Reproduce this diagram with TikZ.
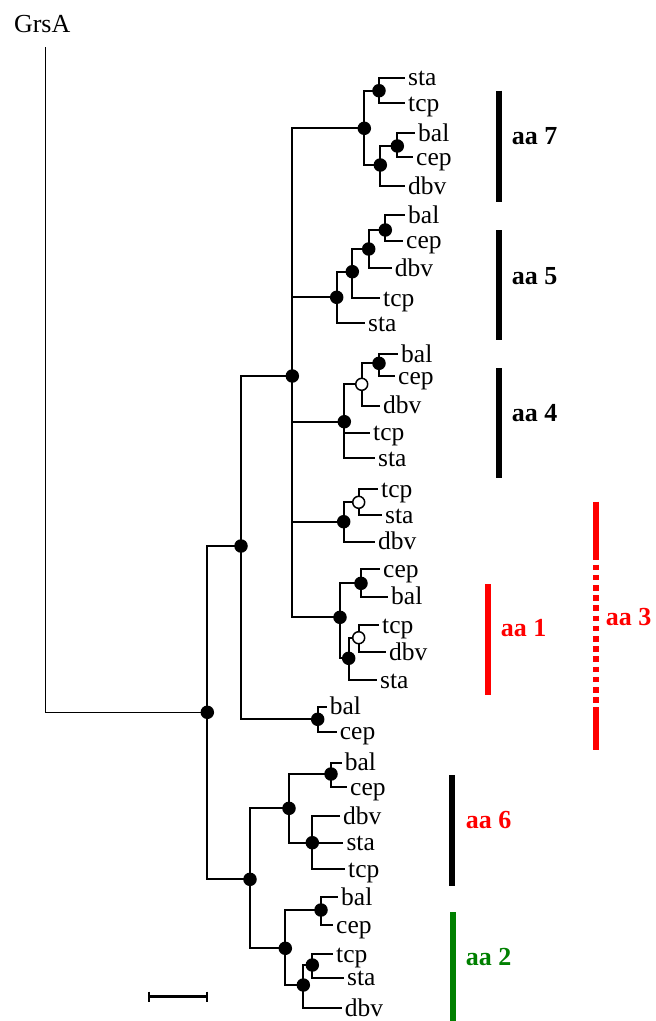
\documentclass[tikz,border=0pt]{standalone}
\usepackage{fontspec}
\setmainfont{Liberation Serif}
\usetikzlibrary{backgrounds}
\definecolor{aared}{RGB}{255,0,0}
\definecolor{aagreen}{RGB}{0,128,0}
\begin{document}
\begin{tikzpicture}[x=1pt,y=-1pt,
 dot/.style={circle,fill=black,inner sep=0pt,minimum size=13.5pt},
 odot/.style={circle,draw=black,fill=white,line width=1.5pt,inner sep=0pt,minimum size=12pt},
 branch/.style={line width=2pt},
 leaflabel/.style={anchor=base west,inner sep=0pt,font=\fontsize{25.5}{30}\selectfont,xshift=3pt,yshift=-8pt},
 grp/.style={line width=6pt},
 grplabel/.style={anchor=base west,inner sep=0pt,font=\fontsize{26}{30}\selectfont\bfseries},
]
\useasboundingbox (0,0) rectangle (656,1021);
% internal nodes
\node[dot] (R) at (207.3,712.3) {};
\node[dot] (A) at (241,546) {};
\node[dot] (B) at (292.3,376) {};
\node[dot] (C7) at (364.3,128.3) {};
\node[dot] (n7a) at (379,90.7) {};
\node[dot] (n7b) at (380.3,165) {};
\node[dot] (n7c) at (397.3,146) {};
\node[dot] (C5) at (336.7,297.3) {};
\node[dot] (n5a) at (352.3,271.7) {};
\node[dot] (n5b) at (368.7,249) {};
\node[dot] (n5c) at (385.3,230) {};
\node[dot] (C4) at (344.3,421.7) {};
\node[odot] (o4) at (361.7,384.3) {};
\node[dot] (n4c) at (379,363.3) {};
\node[dot] (Cx) at (343.7,521.7) {};
\node[odot] (ox) at (358.7,502.3) {};
\node[dot] (C1) at (340,617.3) {};
\node[dot] (n1a) at (361,583.3) {};
\node[dot] (n1b) at (348.7,658.3) {};
\node[odot] (o1) at (358.7,637.7) {};
\node[dot] (BC) at (317.7,719.3) {};
\node[dot] (D) at (250,879.3) {};
\node[dot] (D6) at (289,808.3) {};
\node[dot] (n6a) at (331,774) {};
\node[dot] (n6b) at (312.3,842.7) {};
\node[dot] (D2) at (285.3,948.3) {};
\node[dot] (n2a) at (321,910) {};
\node[dot] (n2b) at (303.3,985) {};
\node[dot] (n2c) at (312.3,965) {};
% leaves: name/parent/x/y/text
\foreach \n/\p/\x/\y/\t in {
 a1/n7a/405/77.7/sta, a2/n7a/405/103.3/tcp, a3/n7c/415/133/bal, a4/n7c/413/157.3/cep, a5/n7b/405/186/dbv,
 b1/n5c/405/215.3/bal, b2/n5c/403/240.7/cep, b3/n5b/391.7/268.3/dbv, b4/n5a/380/298.3/tcp, b5/C5/365/323.3/sta,
 c1/n4c/398/354/bal, c2/n4c/395/376/cep, c3/o4/380/405.7/dbv, c4/C4/370/432.7/tcp, c5/C4/375/458.3/sta,
 d1/ox/378/489.3/tcp, d2/ox/382/515/sta, d3/Cx/375/541.7/dbv,
 e1/n1a/380/569.3/cep, e2/n1a/388/596.7/bal, e3/o1/379/625/tcp, e4/o1/386/652.3/dbv, e5/n1b/377/680/sta,
 f1/BC/326.7/706.7/bal, f2/BC/336.7/731.7/cep,
 g1/n6a/341.7/762.7/bal, g2/n6a/347/787.3/cep, g3/n6b/340/816/dbv, g4/n6b/343.3/842.7/sta, g5/n6b/345/869.3/tcp,
 h1/n2a/338/897.3/bal, h2/n2a/333/925/cep, h3/n2c/333/954/tcp, h4/n2c/344/977.7/sta, h5/n2b/341.7/1008.3/dbv}
{
 \coordinate (\n) at (\x,\y);
 \node[leaflabel] (\n t) at (\n) {\t};
 \begin{pgfonlayer}{background}
 \draw[branch] (\p.center) |- (\n.center);
 \end{pgfonlayer}
}
% root
\coordinate (g) at (45.7,47);
\node[anchor=base,inner sep=0pt,font=\fontsize{26}{30}\selectfont] (grsa) at (42.2,32.7) {GrsA};
\begin{pgfonlayer}{background}
\draw[line width=1.5pt] (R.center) -| (g);
\foreach \p/\c in {R/A, R/D, A/B, A/BC, B/C7, B/C5, B/C4, B/Cx, B/C1, C7/n7a, C7/n7b, n7b/n7c,
 C5/n5a, n5a/n5b, n5b/n5c, C4/o4, o4/n4c, Cx/ox, C1/n1a, C1/n1b, n1b/o1,
 D/D6, D/D2, D6/n6a, D6/n6b, D2/n2a, D2/n2b, n2b/n2c}
 \draw[branch] (\p.center) |- (\c.center);
\end{pgfonlayer}
% group bars
\draw[grp] (499,90.7) -- (499,201.7);
\node[grplabel] (aa7) at (511.7,144) {aa 7};
\draw[grp] (499,230) -- (499,340);
\node[grplabel] (aa5) at (511.7,284) {aa 5};
\draw[grp] (499,368.3) -- (499,478);
\node[grplabel] (aa4) at (511.7,421.7) {aa 4};
\draw[grp,aared] (488,584) -- (488,695);
\node[grplabel,text=aared] (aa1) at (500.7,636) {aa 1};
\draw[grp,aared] (596,501.7) -- (596,560);
\draw[grp,aared,dash pattern=on 5.6pt off 4.6pt,dash phase=5.6pt] (596,560) -- (596,711.7);
\draw[grp,aared] (596,711.7) -- (596,750);
\node[grplabel,text=aared] (aa3) at (605.7,625) {aa 3};
\draw[grp] (452,775) -- (452,886);
\node[grplabel,text=aared] (aa6) at (465.7,828.3) {aa 6};
\draw[grp,aagreen] (453,912.3) -- (453,1021);
\node[grplabel,text=aagreen] (aa2) at (465.7,965) {aa 2};
% scale bar
\draw[line width=3pt] (148.3,996.7) -- (208.3,996.7);
\draw[line width=2pt] (149.3,991.7) -- (149.3,1001.7);
\draw[line width=2pt] (207.3,991.7) -- (207.3,1001.7);
\end{tikzpicture}
\end{document}
